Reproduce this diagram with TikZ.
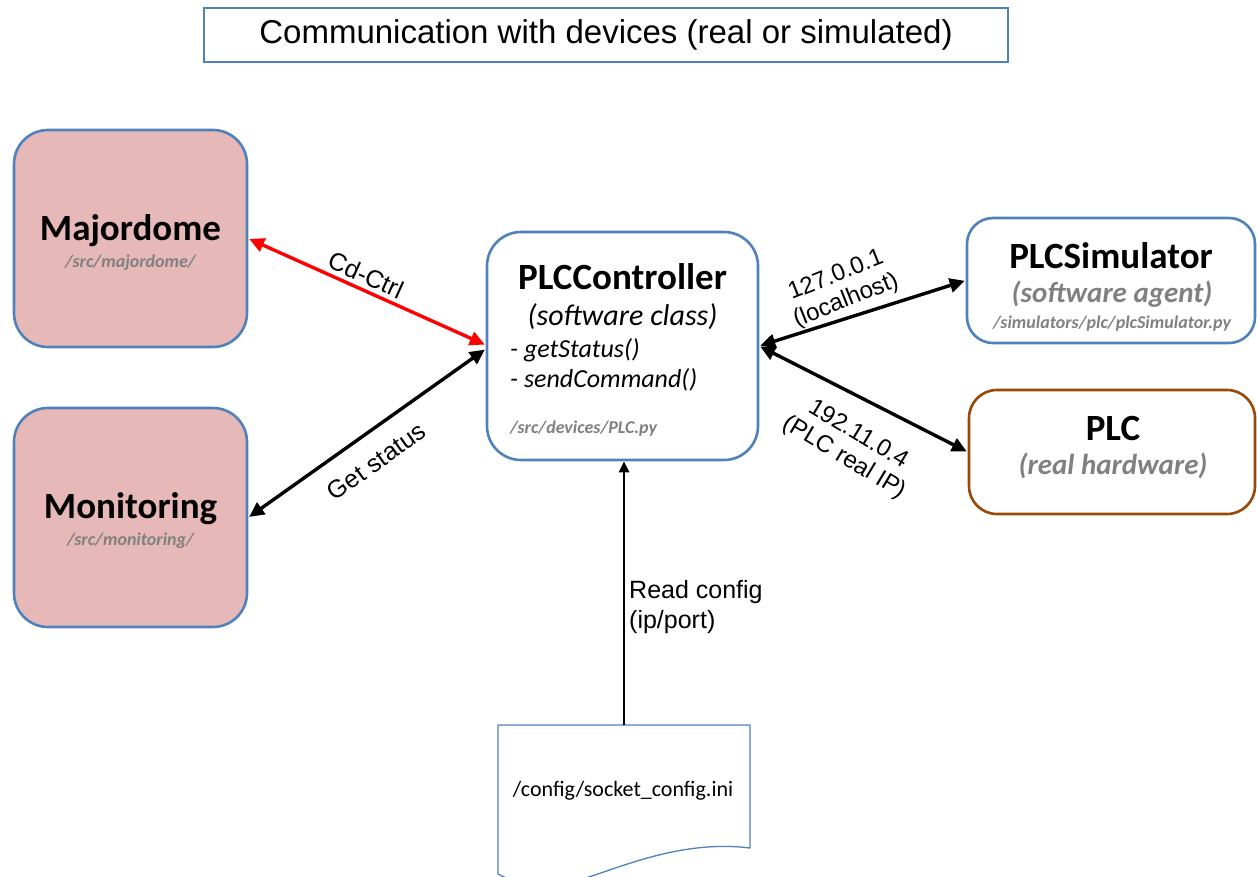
\documentclass[tikz,border=0pt]{standalone}
\usepackage{fontspec}
\setmainfont{Liberation Sans}
\newfontfamily\calfont{Carlito}
\usetikzlibrary{arrows.meta}
\definecolor{boxblue}{RGB}{79,129,189}
\definecolor{pinkfill}{RGB}{230,185,184}
\definecolor{brownline}{RGB}{152,72,7}
\definecolor{graytext}{RGB}{128,128,128}
\tikzset{
  bluebox/.style={draw=boxblue, line width=2.6pt, rounded corners=34pt, inner sep=0pt},
  pinkbox/.style={bluebox, fill=pinkfill},
  browbox/.style={draw=brownline, line width=2.6pt, rounded corners=28pt, inner sep=0pt},
  bigname/.style={font=\calfont\bfseries\fontsize{37}{42}\selectfont, inner sep=0pt},
  subpath/.style={font=\calfont\bfseries\itshape\fontsize{18}{21}\selectfont, text=graytext, inner sep=0pt},
  conn/.style={line width=3.4pt, {Triangle[length=15pt,width=14pt]}-{Triangle[length=15pt,width=14pt]}, shorten <=1pt, shorten >=1pt},
  lbl/.style={font=\fontsize{25}{27}\selectfont, inner sep=4pt, text=black},
}
\begin{document}
\begin{tikzpicture}[x=1pt,y=-1pt]
\useasboundingbox (0,0) rectangle (1257,877);
% title
\node[draw=boxblue, line width=1.2pt, minimum width=804pt, minimum height=54pt, inner sep=0pt,
      font=\fontsize{33}{36}\selectfont] (title) at (606,35) {Communication with devices (real or simulated)};
% left boxes
\node[pinkbox, minimum width=233pt, minimum height=217pt] (maj) at (130.5,238.5) {};
\node[bigname] (majt) at (130.5,231) {Majordome};
\node[subpath] (majs) at (130.5,263) {/src/majordome/};
\node[pinkbox, minimum width=233pt, minimum height=219pt] (mon) at (130.5,517.5) {};
\node[bigname] (mont) at (130.5,509) {Monitoring};
\node[subpath] (mons) at (130.5,541) {/src/monitoring/};
% controller
\node[bluebox, minimum width=271pt, minimum height=228pt] (ctrl) at (622.5,346) {};
\node[bigname] (ctrlt) at (622.5,277) {PLCController};
\node[font=\calfont\itshape\fontsize{30}{34}\selectfont, inner sep=0pt] (ctrlc) at (622.5,317) {(software class)};
\node[font=\calfont\itshape\fontsize{26}{30}\selectfont, inner sep=0pt, anchor=west] (ctrlm1) at (510,350) {- getStatus()};
\node[font=\calfont\itshape\fontsize{26}{30}\selectfont, inner sep=0pt, anchor=west] (ctrlm2) at (510,380) {- sendCommand()};
\node[subpath, anchor=west] (ctrls) at (510,429) {/src/devices/PLC.py};
% simulator
\node[bluebox, rounded corners=26pt, minimum width=288pt, minimum height=125pt] (sim) at (1111,280.5) {};
\node[bigname] (simt) at (1111,256) {PLCSimulator};
\node[font=\calfont\bfseries\itshape\fontsize{29}{33}\selectfont, text=graytext, inner sep=0pt] (simc) at (1112,294) {(software agent)};
\node[subpath] (sims) at (1112,324) {/simulators/plc/plcSimulator.py};
% PLC
\node[browbox, minimum width=286pt, minimum height=124pt] (plc) at (1112,452) {};
\node[bigname] (plct) at (1113,428) {PLC};
\node[font=\calfont\bfseries\itshape\fontsize{29}{33}\selectfont, text=graytext, inner sep=0pt] (plcc) at (1113,466) {(real hardware)};
% config document
\coordinate (cfgtop) at (624,725);
\draw[draw=boxblue, line width=1.3pt, fill=white] (498,725) -- (750,725) -- (750,848)
   .. controls (670,838) and (600,878) .. (560,885) .. controls (530,890) and (510,880) .. (498,874) -- cycle;
\node[font=\calfont\fontsize{22}{26}\selectfont, inner sep=0pt] (cfg) at (623,791) {/config/socket\_config.ini};
% connectors
\draw[conn, red] (maj.east) -- node[lbl, sloped, above, pos=0.47] (l1) {Cd-Ctrl} ([yshift=1pt]ctrl.west);
\draw[conn] (mon.east) -- node[lbl, sloped, below, pos=0.47, inner sep=18pt] (l2) {Get status} ([yshift=-3pt]ctrl.west);
\draw[conn] (ctrl.east) -- node[lbl, sloped, above, pos=0.45, rotate=4, align=center, font=\fontsize{24}{27}\selectfont] (l3) {127.0.0.1\\(localhost)} (sim.west);
\draw[conn] (ctrl.east) -- node[lbl, sloped, below, pos=0.56, rotate=-4, inner sep=22pt, align=center, font=\fontsize{24}{27}\selectfont] (l4) {192.11.0.4\\(PLC real IP)} (plc.west);
\draw[line width=2.6pt, -{Triangle[length=11pt,width=10pt]}] (cfgtop) -- (cfgtop |- ctrl.south);
\node[anchor=north west, align=left, inner sep=0pt, font=\fontsize{25}{30}\selectfont] (l5) at (629,580) {Read config\\(ip/port)};
\end{tikzpicture}
\end{document}
